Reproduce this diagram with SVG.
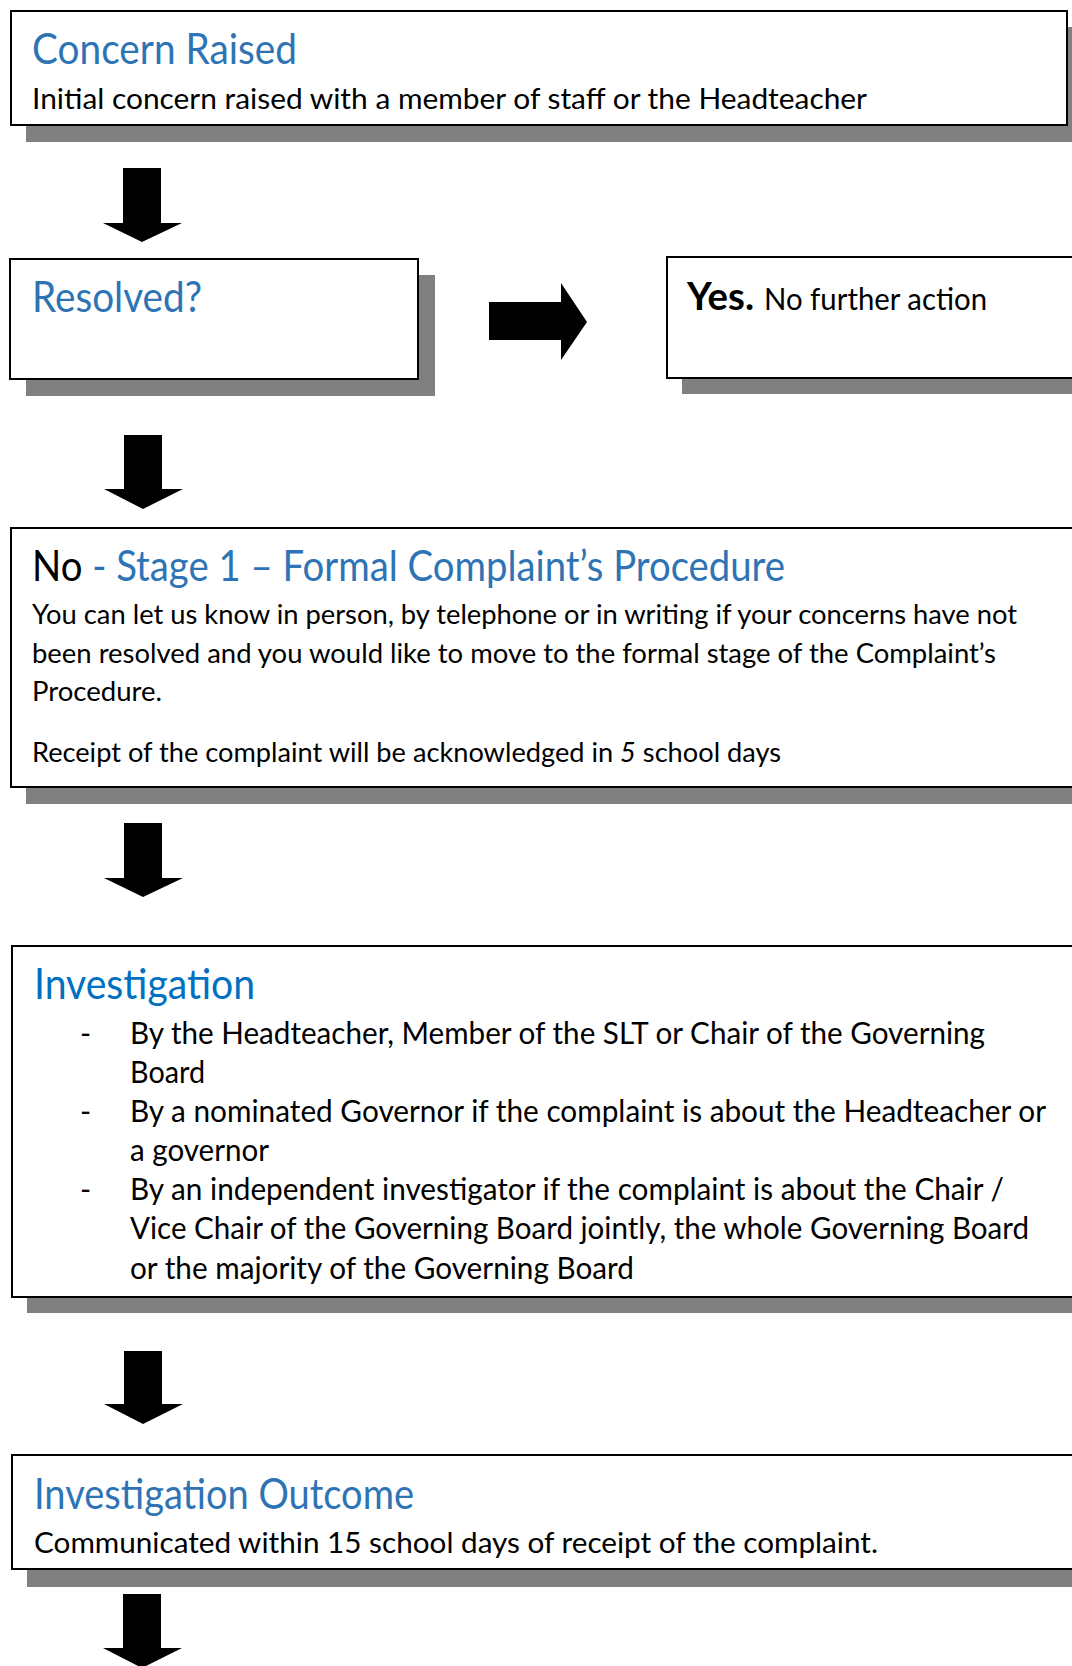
<svg xmlns="http://www.w3.org/2000/svg" width="1072" height="1666" viewBox="0 0 1072 1666">
<style>
text{font-family:Lato,"Open Sans",sans-serif}
.box{fill:#fff;stroke:#000;stroke-width:2}
.sh{fill:#808080}
.h{font-size:42px;fill:#2e74b5}
.hb{font-size:42px;fill:#0070c0}
.t{fill:#000}
.arr{fill:#000}
</style>
<rect width="1072" height="1666" fill="#fff"/>
<g id="concern-raised">
<rect class="sh" x="26" y="27" width="1060" height="115"/>
<rect class="box" x="11" y="11" width="1056" height="114"/>
<text class="h" x="32" y="64" textLength="265" lengthAdjust="spacingAndGlyphs">Concern Raised</text>
<text class="t" x="32" y="109" font-size="28" textLength="835" lengthAdjust="spacingAndGlyphs">Initial concern raised with a member of staff or the Headteacher</text>
</g>
<g id="resolved">
<rect class="sh" x="26" y="275" width="409" height="121"/>
<rect class="box" x="10" y="259" width="408" height="120"/>
<text class="h" x="32" y="312" textLength="170" lengthAdjust="spacingAndGlyphs">Resolved?</text>
</g>
<g id="yes">
<rect class="sh" x="682" y="273" width="420" height="121"/>
<rect class="box" x="667" y="257" width="420" height="121"/>
<text class="t" x="687" y="310" font-size="38" font-weight="bold" textLength="67" lengthAdjust="spacingAndGlyphs">Yes.</text>
<text class="t" x="764" y="310" font-size="30" textLength="223" lengthAdjust="spacingAndGlyphs">No further action</text>
</g>
<g id="stage1">
<rect class="sh" x="26" y="544" width="1060" height="260"/>
<rect class="box" x="11" y="528" width="1080" height="259"/>
<text x="32" y="581" font-size="42" textLength="753" lengthAdjust="spacingAndGlyphs"><tspan class="t">No </tspan><tspan fill="#2e74b5">- Stage 1 – Formal Complaint’s Procedure</tspan></text>
<text class="t" x="32" y="624" font-size="27" textLength="985" lengthAdjust="spacingAndGlyphs">You can let us know in person, by telephone or in writing if your concerns have not</text>
<text class="t" x="32" y="663" font-size="27" textLength="964" lengthAdjust="spacingAndGlyphs">been resolved and you would like to move to the formal stage of the Complaint’s</text>
<text class="t" x="32" y="701" font-size="27" textLength="130" lengthAdjust="spacingAndGlyphs">Procedure.</text>
<text class="t" x="32" y="762" font-size="27" textLength="749" lengthAdjust="spacingAndGlyphs">Receipt of the complaint will be acknowledged in <tspan font-style="italic">5</tspan> school days</text>
</g>
<g id="investigation">
<rect class="sh" x="27" y="962" width="1060" height="351"/>
<rect class="box" x="12" y="946" width="1080" height="351"/>
<text class="hb" x="34" y="999" textLength="221" lengthAdjust="spacingAndGlyphs">Investigation</text>
<g class="t" font-size="30">
<text x="80" y="1044">-</text>
<text x="80" y="1122">-</text>
<text x="80" y="1200">-</text>
<text x="130" y="1044" textLength="855" lengthAdjust="spacingAndGlyphs">By the Headteacher, Member of the SLT or Chair of the Governing</text>
<text x="130" y="1083" textLength="75" lengthAdjust="spacingAndGlyphs">Board</text>
<text x="130" y="1122" textLength="916" lengthAdjust="spacingAndGlyphs">By a nominated Governor if the complaint is about the Headteacher or</text>
<text x="130" y="1161" textLength="139" lengthAdjust="spacingAndGlyphs">a governor</text>
<text x="130" y="1200" textLength="874" lengthAdjust="spacingAndGlyphs">By an independent investigator if the complaint is about the Chair /</text>
<text x="130" y="1239" textLength="899" lengthAdjust="spacingAndGlyphs">Vice Chair of the Governing Board jointly, the whole Governing Board</text>
<text x="130" y="1279" textLength="504" lengthAdjust="spacingAndGlyphs">or the majority of the Governing Board</text>
</g>
</g>
<g id="outcome">
<rect class="sh" x="27" y="1471" width="1060" height="116"/>
<rect class="box" x="12" y="1455" width="1080" height="114"/>
<text class="h" x="34" y="1509" textLength="380" lengthAdjust="spacingAndGlyphs">Investigation Outcome</text>
<text class="t" x="34" y="1553" font-size="29" textLength="844" lengthAdjust="spacingAndGlyphs">Communicated within 15 school days of receipt of the complaint.</text>
</g>
<g id="connectors">
<polygon class="arr" points="123,168 161,168 161,223 182,223 142,242 103,223 123,223"/>
<polygon class="arr" points="124,435 162,435 162,489 183,489 143,509 104,489 124,489"/>
<polygon class="arr" points="489,302 561,302 561,283 587,322 561,360 561,340 489,340"/>
<polygon class="arr" points="124,823 162,823 162,878 183,878 143,897 104,878 124,878"/>
<polygon class="arr" points="124,1351 162,1351 162,1404 183,1404 143,1424 104,1404 124,1404"/>
<polygon class="arr" points="123,1594 161,1594 161,1648 182,1648 142,1668 103,1648 123,1648"/>
</g>
</svg>
